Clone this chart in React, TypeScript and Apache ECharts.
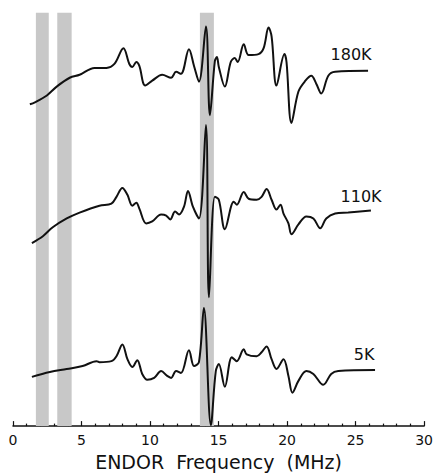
import React, { useEffect, useRef } from "react";
import * as echarts from "echarts";

// ENDOR spectra: [frequency (MHz), intensity (arb. units, relative to trace baseline)]
const spectrum180K: [number, number][] = [
  [1.23, -34], [1.6, -32], [2.47, -25], [3.19, -16], [4.14, -7], [4.86, -4],
  [5.95, 3], [6.82, 3], [7.4, 7], [8.06, 23], [8.49, 7], [8.71, 4], [9.0, 9],
  [9.22, 5], [9.65, -15], [10.16, -10], [10.89, -4], [11.54, -7], [11.9, -1],
  [12.26, -3], [12.84, 22], [13.21, 5], [13.57, -11], [14.08, 45], [14.37, -45],
  [14.73, 10], [14.88, 14], [15.02, 4], [15.46, -16], [15.89, 9], [16.18, 13],
  [16.4, 9], [16.84, 27], [17.2, 16], [17.92, 17], [18.29, 23], [18.65, 44],
  [18.87, 35], [19.23, -15], [19.81, 17], [19.96, 9], [20.32, -53], [20.83, -21],
  [21.34, -10], [21.77, -5], [22.13, -13], [22.5, -23], [23.01, -5], [23.51, -1],
  [25.91, 0],
];

const spectrum110K: [number, number][] = [
  [1.38, -33], [2.18, -26], [2.9, -17], [3.92, -8], [4.86, -2], [6.31, 5],
  [7.18, 7], [7.55, 14], [7.98, 23], [8.35, 16], [8.71, 5], [9.0, 8], [9.22, 2],
  [9.72, -13], [10.16, -11], [10.81, -4], [11.18, -5], [11.47, -9], [11.83, -1],
  [12.12, -4], [12.48, 4], [12.77, 20], [13.13, 4], [13.57, -8], [14.08, 87],
  [14.3, -88], [14.73, 14], [15.02, 11], [15.46, -19], [16.11, 9], [16.33, 6],
  [16.84, 19], [17.2, 12], [17.78, 11], [18.14, 14], [18.51, 22], [18.87, 11],
  [19.23, 1], [19.52, 6], [19.74, -3], [20.1, -13], [20.32, -24], [20.83, -14],
  [21.41, -6], [21.92, -8], [22.42, -18], [22.86, -8], [23.51, -3], [24.46, -2],
  [26.12, 0],
];

const spectrum5K: [number, number][] = [
  [1.38, -7], [2.69, -2], [3.92, 1], [5.08, 4], [6.1, 9], [6.31, 8], [7.18, 9],
  [7.55, 14], [7.98, 26], [8.35, 11], [8.71, 3], [9.07, 10], [9.43, -4],
  [9.8, -10], [10.3, -8], [10.81, -1], [11.25, -6], [11.54, -8], [11.9, -1],
  [12.26, -3], [12.84, 20], [13.21, 4], [13.57, 8], [13.93, 63], [14.44, -56],
  [14.8, -1], [15.02, 6], [15.46, -17], [15.97, 13], [16.33, 9], [16.84, 21],
  [17.05, 16], [17.78, 14], [18.14, 18], [18.51, 24], [18.87, 11], [19.23, 1],
  [19.74, 11], [20.1, -6], [20.39, -23], [20.83, -11], [21.41, -1], [21.92, -4],
  [22.64, -15], [23.22, -4], [23.73, -1], [26.42, 0],
];

const temperatures = ["180K", "110K", "5K"];
const baselines = [361, 219, 57];
const labelFreqs = [24.67, 25.4, 25.62];
const labelHeights = [17, 14, 16];

// shaded frequency bands (MHz)
const bands: [number, number][] = [
  [1.67, 2.61],
  [3.23, 4.28],
  [13.64, 14.66],
];

const xTicks = [0, 5, 10, 15, 20, 25, 30];

export default function App() {
  const ref = useRef<HTMLDivElement>(null);

  useEffect(() => {
    if (!ref.current) return;
    const chart = echarts.init(ref.current, null, { renderer: "svg" });
    const spectra = [spectrum180K, spectrum110K, spectrum5K];

    const series: any[] = spectra.map((sp, i) => ({
      type: "line",
      name: temperatures[i],
      data: sp.map(([f, v]) => [f, v + baselines[i]]),
      showSymbol: false,
      smooth: 0.35,
      lineStyle: { color: "#111", width: 2 },
      z: 3,
      markPoint: {
        symbol: "circle",
        symbolSize: 1,
        itemStyle: { color: "rgba(0,0,0,0)" },
        label: {
          show: true,
          position: "inside",
          formatter: temperatures[i],
          color: "#111",
          fontFamily: "DejaVu Sans",
          fontSize: 16,
        },
        data: [{ coord: [labelFreqs[i], baselines[i] + labelHeights[i]] }],
      },
    }));

    series.push({
      type: "line",
      data: [],
      silent: true,
      z: 1,
      markArea: {
        silent: true,
        itemStyle: { color: "#c8c8c8" },
        data: bands.map(([a, b]) => [
          { xAxis: a, yAxis: 0 },
          { xAxis: b, yAxis: 420 },
        ]),
      },
    });

    chart.setOption({
      animation: false,
      backgroundColor: "#fff",
      grid: { left: 13, right: 9, top: 0, bottom: 43 },
      xAxis: {
        type: "value",
        min: xTicks[0],
        max: xTicks[xTicks.length - 1],
        interval: 5,
        name: "ENDOR  Frequency  (MHz)",
        nameLocation: "middle",
        nameGap: 24,
        nameTextStyle: { color: "#111", fontSize: 19, fontFamily: "DejaVu Sans" },
        axisLine: { lineStyle: { color: "#111", width: 1.5 } },
        axisTick: { inside: true, length: 5, lineStyle: { color: "#111", width: 1.2 } },
        minorTick: { show: true, splitNumber: 5, length: 2.5, lineStyle: { color: "#111", width: 1.2 } },
        axisLabel: { color: "#111", fontSize: 14, margin: 7, fontFamily: "DejaVu Sans" },
        splitLine: { show: false },
      },
      yAxis: {
        type: "value",
        min: 0,
        max: 433,
        show: false,
      },
      series,
    });

    return () => chart.dispose();
  }, []);

  return (
    <div
      ref={ref}
      style={{ position: "fixed", left: 0, top: 0, width: 436, height: 476 }}
    />
  );
}
